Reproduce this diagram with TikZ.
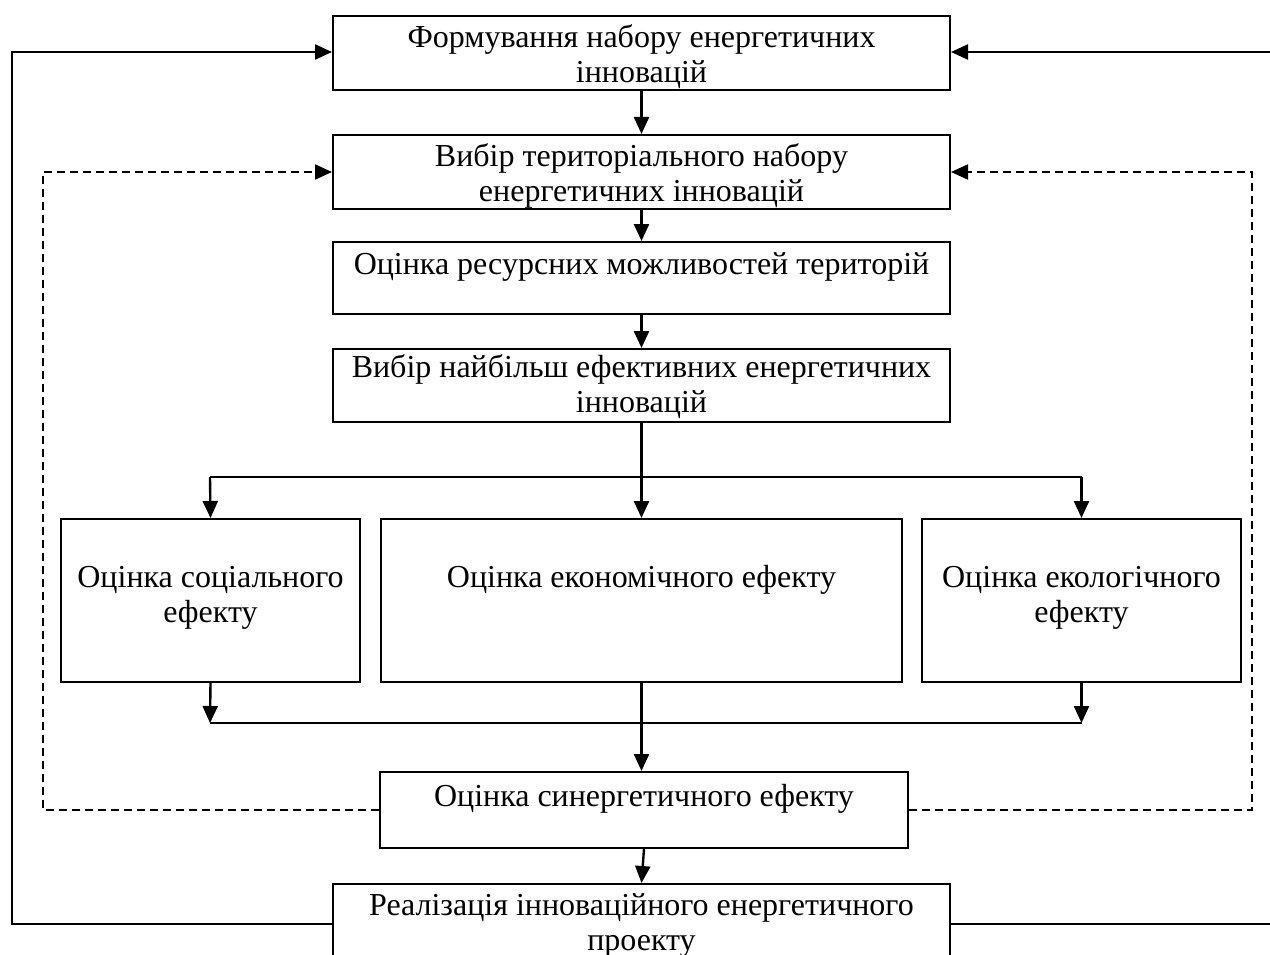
\documentclass[tikz,border=0pt]{standalone}
\usepackage{fontspec}
\setmainfont{Liberation Serif}
\usetikzlibrary{arrows.meta}
\begin{document}
\begin{tikzpicture}[x=1pt,y=-1pt,
  box/.style={draw=black,line width=2pt,rectangle,inner sep=0pt},
  txt/.style={font=\fontsize{32}{35}\selectfont,align=center,inner sep=0pt},
  arr/.style={line width=2.4pt,-{Triangle[length=17pt,width=15pt]}},
  ln/.style={line width=2pt},
  dsh/.style={line width=2.2pt,dash pattern=on 8pt off 5pt},
  darr/.style={dsh,-{Triangle[length=17pt,width=15pt]}}]
\useasboundingbox (0,0) rectangle (1270,955);
% boxes
\node[box,minimum width=617pt,minimum height=74pt] (b1) at (641.5,53) {};
\node[box,minimum width=617pt,minimum height=74pt] (b2) at (641.5,172) {};
\node[box,minimum width=617pt,minimum height=72pt] (b3) at (641.5,278) {};
\node[box,minimum width=617pt,minimum height=73pt] (b4) at (641.5,385.5) {};
\node[box,minimum width=299pt,minimum height=163pt] (b5) at (210.5,600.5) {};
\node[box,minimum width=521pt,minimum height=163pt] (b6) at (641.5,600.5) {};
\node[box,minimum width=319pt,minimum height=163pt] (b7) at (1081.5,600.5) {};
\node[box,minimum width=528pt,minimum height=76pt] (b8) at (644,810) {};
\node[box,minimum width=617pt,minimum height=80pt] (b9) at (641.5,924) {};
% texts
\node[txt] (t1) at (641.5,57) {Формування набору енергетичних\\інновацій};
\node[txt] (t2) at (641.5,176) {Вибір територіального набору\\енергетичних інновацій};
\node[txt] (t3) at (641.5,266.5) {Оцінка ресурсних можливостей територій};
\node[txt] (t4) at (641.5,387) {Вибір найбільш ефективних енергетичних\\інновацій};
\node[txt] (t5) at (210.5,598) {Оцінка соціального\\ефекту};
\node[txt] (t6) at (641.5,579.5) {Оцінка економічного ефекту};
\node[txt] (t7) at (1081.5,598) {Оцінка екологічного\\ефекту};
\node[txt] (t8) at (644,798.5) {Оцінка синергетичного ефекту};
\node[txt] (t9) at (641.5,925) {Реалізація інноваційного енергетичного\\проекту};
% coordinates
\coordinate (s1) at (210,477);
\coordinate (s3) at (1081.5,477);
\coordinate (c1) at (210,723);
\coordinate (c3) at (1081.5,723);
\coordinate (dl1) at (43,810);
\coordinate (dl2) at (43,172);
\coordinate (dr1) at (1252,810);
\coordinate (dr2) at (1252,172);
\coordinate (fl1) at (12,924);
\coordinate (fl2) at (12,52);
\coordinate (fr1) at (1271,924);
\coordinate (fr2) at (1271,52);
% main flow
\draw[arr] (b1.south) -- (b2.north);
\draw[arr] (b2.south) -- (b3.north);
\draw[arr] (b3.south) -- (b4.north);
\draw[arr] (b4.south) -- (b6.north);
\draw[ln] (s1) -- (s3);
\draw[arr] (s1) -- (b5.north);
\draw[arr] (s3) -- (b7.north);
\draw[arr] (b5.south) -- (c1);
\draw[arr] (b7.south) -- (c3);
\draw[ln] (c1) -- (c3);
\draw[arr] (b6.south) -- (b6.south |- b8.north);
\draw[arr] (b8.south) -- (b9.north);
% dashed feedback
\draw[darr] (b8.west) -- (dl1) -- (dl2) -- (b2.west);
\draw[darr] (b8.east) -- (dr1) -- (dr2) -- (b2.east);
% solid feedback
\draw[arr] (b9.west |- fl1) -- (fl1) -- (fl2) -- (b1.west |- fl2);
\draw[arr] (b9.east |- fr1) -- (fr1) -- (fr2) -- (b1.east |- fr2);
\end{tikzpicture}
\end{document}
